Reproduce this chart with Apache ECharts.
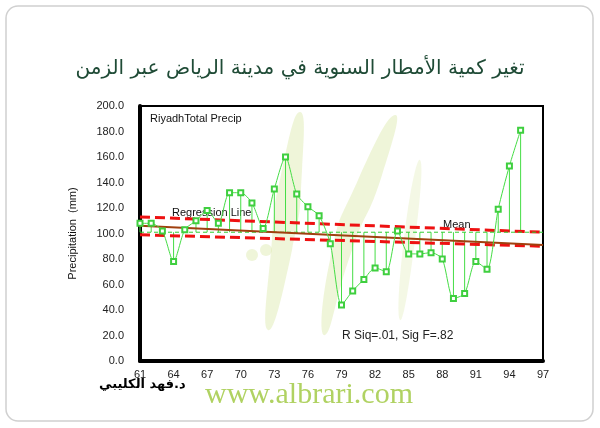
<!DOCTYPE html>
<html><head><meta charset="utf-8">
<script src="https://cdn.jsdelivr.net/npm/echarts@6/dist/echarts.min.js"></script>
<style>html,body{margin:0;padding:0;background:#fff}#c{width:600px;height:428px}</style>
</head><body><div id="c"></div>
<script>
const years = [61,62,63,64,65,66,67,68,69,70,71,72,73,74,75,76,77,78,79,80,81,82,83,84,85,86,87,88,89,90,91,92,93,94,95];
const precip = [108,108,102,78,103,110,118,108,132,132,124,104,135,160,131,121,114,92,44,55,64,73,70,102,84,84,85,80,49,53,78,72,119,153,181];
const meanValue = 101;
const regression = [[61,106],[97,91]];
const bandUpper = [[61,113],[97,101]];
const bandLower = [[61,99],[97,90]];
const xTicks = [61,64,67,70,73,76,79,82,85,88,91,94,97];
const yTicks = [0,20,40,60,80,100,120,140,160,180,200];

const chart = echarts.init(document.getElementById('c'), null, {renderer:'canvas'});
const pts = years.map((y,i)=>[y, precip[i]]);
const leafColor = 'rgba(220,232,170,0.45)';
chart.setOption({
  backgroundColor:'#fff',
  animation:false,
  title:{text:'تغير كمية الأمطار السنوية في مدينة الرياض عبر الزمن', left:'center', top:54,
    textStyle:{fontFamily:'DejaVu Sans', fontSize:20, fontWeight:'normal', color:'#1f4b36'}},
  graphic:[
    {type:'rect', shape:{x:6,y:6,width:587,height:415,r:12}, style:{fill:'none', stroke:'#d0d0d0', lineWidth:1.5}, z:-10},
    {type:'polygon', shape:{points:[[300,112],[282,170],[272,240],[268,330],[292,250],[302,170]], smooth:0.6}, style:{fill:leafColor}, z:-5},
    {type:'polygon', shape:{points:[[395,115],[358,180],[330,260],[325,335],[352,250],[382,175]], smooth:0.6}, style:{fill:leafColor}, z:-5},
    {type:'polygon', shape:{points:[[420,160],[405,230],[400,320],[415,240]], smooth:0.6}, style:{fill:'rgba(220,232,170,0.3)'}, z:-5},
    {type:'circle', shape:{cx:252,cy:255,r:6}, style:{fill:leafColor}, z:-5},
    {type:'circle', shape:{cx:266,cy:250,r:6}, style:{fill:leafColor}, z:-5},
    {type:'text', left:150, top:113, style:{text:'RiyadhTotal Precip', fontFamily:'Liberation Sans', fontSize:11, fill:'#111'}},
    {type:'text', left:172, top:207, style:{text:'Regression Line', fontFamily:'Liberation Sans', fontSize:11, fill:'#111'}},
    {type:'text', left:443, top:219, style:{text:'Mean', fontFamily:'Liberation Sans', fontSize:11, fill:'#111'}},
    {type:'text', left:342, top:330, style:{text:'R Siq=.01, Sig F=.82', fontFamily:'Liberation Sans', fontSize:12, fill:'#222'}},
    {type:'text', left:99, top:378, style:{text:'د.فهد الكليبي', fontFamily:'DejaVu Sans', fontSize:13, fontWeight:'bold', fill:'#000'}},
    {type:'text', left:205, top:380, style:{text:'www.albrari.com', fontFamily:'Liberation Serif', fontSize:30, fill:'#b0d262'}}
  ],
  grid:{left:140, right:57, top:106, bottom:67, show:true, borderColor:'#000', borderWidth:2, backgroundColor:'transparent'},
  xAxis:{type:'value', min:61, max:97, interval:3,
    axisLine:{show:true, lineStyle:{color:'#000', width:4}},
    axisTick:{show:false},
    splitLine:{show:false},
    axisLabel:{fontFamily:'Liberation Sans', fontSize:11, color:'#222', margin:8, formatter:v=>xTicks.includes(v)?String(v):''}},
  yAxis:{type:'value', min:0, max:200, interval:20,
    name:'Precipitation  (mm)', nameLocation:'middle', nameRotate:90, nameGap:62,
    nameTextStyle:{fontFamily:'Liberation Sans', fontSize:11, color:'#111'},
    axisLine:{show:true, lineStyle:{color:'#000', width:4}},
    axisTick:{show:false},
    splitLine:{show:false},
    axisLabel:{fontFamily:'Liberation Sans', fontSize:11, color:'#222', margin:16, formatter:v=>yTicks.includes(v)?v.toFixed(1):''}},
  series:[
    {type:'custom', renderItem:(params, api)=>{
        const x = api.value(0), v = api.value(1);
        const a = api.coord([x, meanValue]), b = api.coord([x, v]);
        return {type:'line', shape:{x1:a[0],y1:a[1],x2:b[0],y2:b[1]}, style:{stroke:'#45dd45', lineWidth:1}};
      }, data:pts, z:3},
    {type:'line', data:bandUpper, symbol:'none', lineStyle:{color:'#ee1111', width:3, type:[10,5]}, z:4},
    {type:'line', data:bandLower, symbol:'none', lineStyle:{color:'#ee1111', width:3, type:[10,5]}, z:4},
    {type:'line', data:[[61,meanValue],[97,meanValue]], symbol:'none', lineStyle:{color:'#33cc33', width:1, type:[4,3]}, z:4},
    {type:'line', data:regression, symbol:'none', lineStyle:{color:'#a0400f', width:2}, z:5},
    {type:'line', data:pts, smooth:0.25, symbol:'emptyRect', symbolSize:5,
      itemStyle:{color:'#3fcf3f', borderWidth:1}, lineStyle:{color:'#45dd45', width:1}, z:6}
  ]
});
</script></body></html>
